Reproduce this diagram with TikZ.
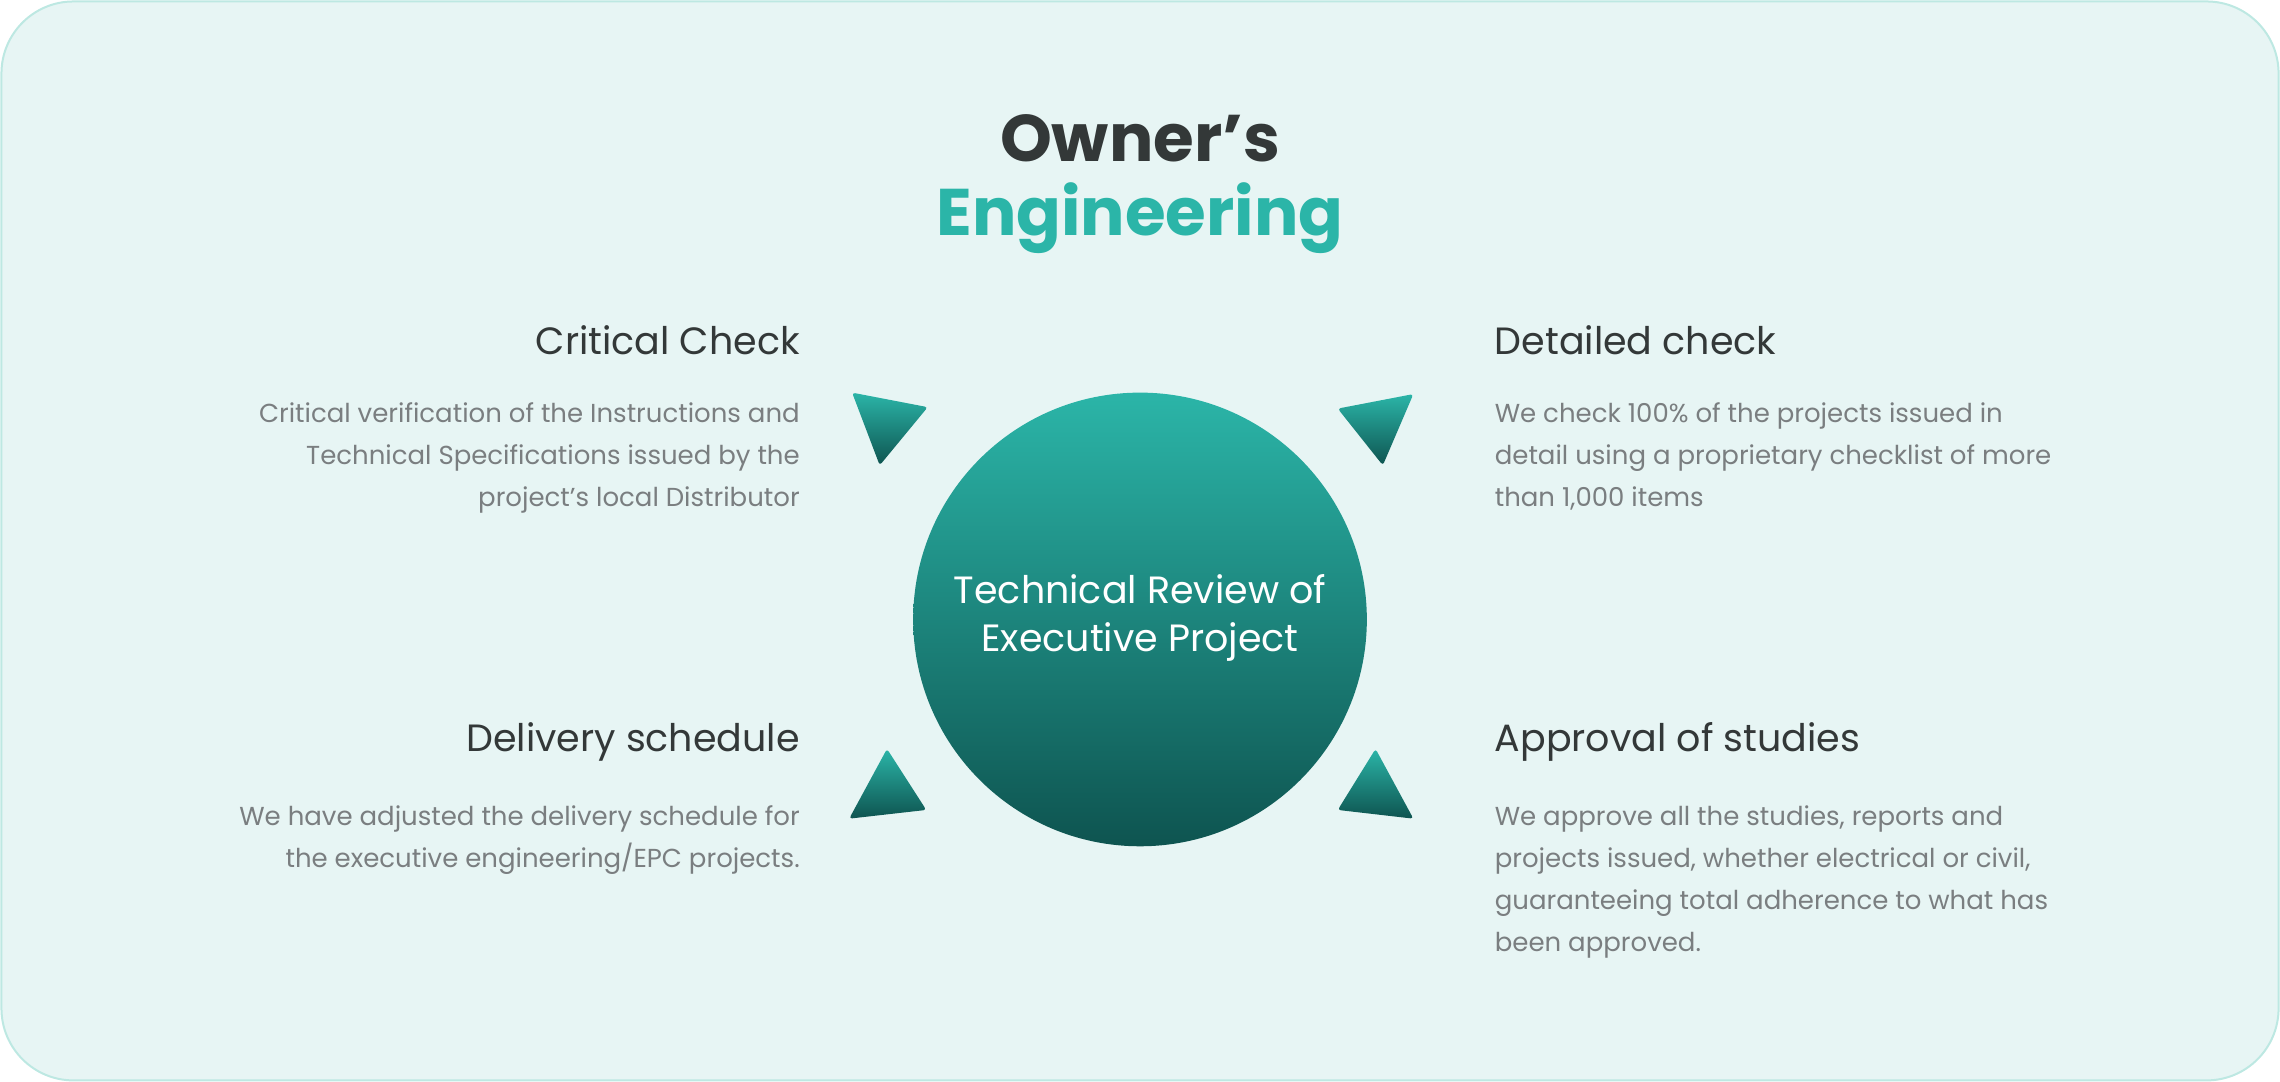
\documentclass[tikz,border=0pt]{standalone}
\usepackage{fontspec}
\setmainfont{Poppins}
\usepackage{tikz}
\usetikzlibrary{positioning}
\definecolor{bgmint}{HTML}{E7F5F4}
\definecolor{bgline}{HTML}{BDE8E2}
\definecolor{tealhi}{HTML}{2BB5A8}
\definecolor{tealdk}{HTML}{0E5450}
\definecolor{headgray}{HTML}{333838}
\definecolor{bodygray}{HTML}{7A7E80}
\begin{document}
\begin{tikzpicture}[
    x=0.7272pt, y=-0.7272pt,
    every node/.style={inner sep=0pt, outer sep=0pt},
    title/.style={font=\fontsize{33}{36}\selectfont\bfseries},
    heading/.style={font=\fontsize{19}{22}\selectfont, text=headgray},
    body/.style={font=\fontsize{13}{21}\selectfont, text=bodygray},
    wedge/.style={top color=tealhi, bottom color=tealdk, draw=none, rounded corners=1.5pt}
]

% Background panel
\draw [bgline, fill=bgmint, line width=1pt, rounded corners=36pt] (1,1) rectangle (1567,743);

% Title
\node (owner) [title, text=headgray] at (784,95) {Owner's};
\node (engineering) [title, text=tealhi] at (784,150) {Engineering};

% Centre circle
\shade [top color=tealhi, bottom color=tealdk] (784,426) circle (156);
\node (centre) [align=center, text=white, font=\fontsize{19}{24}\selectfont] at (784,425) {Technical Review of\\Executive Project};

% Corner wedges
\shade [wedge] (586,270) -- (638,280) -- (605,320) -- cycle;
\shade [wedge] (972,271) -- (920,281) -- (951,320) -- cycle;
\shade [wedge] (610,515) -- (637,557) -- (584,563) -- cycle;
\shade [wedge] (946,515) -- (972,563) -- (920,557) -- cycle;

% Left column
\node (critical) [heading, anchor=east] at (550,234) {Critical Check};
\node (criticaltxt) [body, align=right, anchor=north east] at (550,277)
  {Critical verification of the Instructions and\\Technical Specifications issued by the\\project's local Distributor};
\node (delivery) [heading, anchor=east] at (550,510) {Delivery schedule};
\node (deliverytxt) [body, align=right, anchor=north east] at (550,554)
  {We have adjusted the delivery schedule for\\the executive engineering/EPC projects.};

% Right column
\node (detailed) [heading, anchor=west] at (1028,234) {Detailed check};
\node (detailedtxt) [body, align=left, anchor=north west] at (1028,277)
  {We check 100\% of the projects issued in\\detail using a proprietary checklist of more\\than 1,000 items};
\node (approval) [heading, anchor=west] at (1028,510) {Approval of studies};
\node (approvaltxt) [body, align=left, anchor=north west] at (1028,554)
  {We approve all the studies, reports and\\projects issued, whether electrical or civil,\\guaranteeing total adherence to what has\\been approved.};

\useasboundingbox (0,0) rectangle (1568,744);
\end{tikzpicture}
\end{document}
